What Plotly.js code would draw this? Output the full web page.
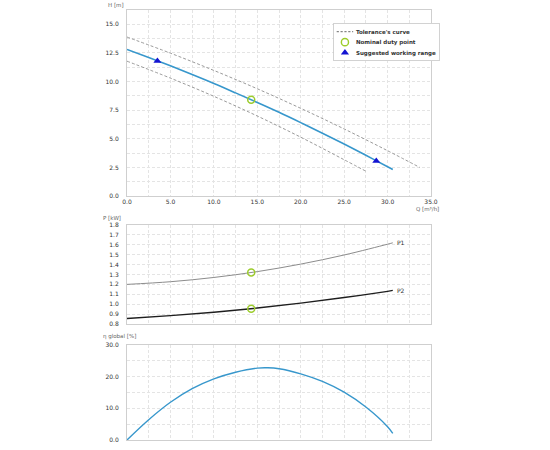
<!DOCTYPE html>
<html>
<head>
<meta charset="utf-8">
<script src="https://cdn.plot.ly/plotly-3.0.1.min.js"></script>
<style>
  html, body { margin: 0; padding: 0; background: #fff; }
  #chart { width: 550px; height: 450px; }
</style>
</head>
<body>
<div id="chart"></div>
<script>
// pump curve: head, tolerance band, power and efficiency vs flow
const qMain = [0, 2.5, 5, 7.5, 10, 12.5, 15, 17.5, 20, 22.5, 25, 27.5, 30, 30.6];
const hMain = [12.80, 12.10, 11.37, 10.61, 9.83, 9.01, 8.17, 7.31, 6.41, 5.49, 4.54, 3.56, 2.56, 2.31];
const qUpper = [0, 5, 10, 15, 20, 25, 30, 33.7];
const hUpper = [13.89, 12.48, 10.97, 9.37, 7.66, 5.86, 3.96, 2.50];
const qLower = [0, 5, 10, 15, 20, 25, 27.6];
const hLower = [11.78, 10.30, 8.71, 6.99, 5.14, 3.17, 2.13];

const qDuty = [14.3];
const hDuty = [8.41];
const p1Duty = [1.32];
const p2Duty = [0.955];

const qRange = [3.5, 28.7];
const hRange = [11.8, 3.06];

const qPower = [0, 5, 10, 15, 20, 25, 30, 30.6];
const p1 = [1.200, 1.227, 1.270, 1.329, 1.405, 1.497, 1.606, 1.62];
const p2 = [0.855, 0.884, 0.919, 0.961, 1.011, 1.067, 1.130, 1.139];

const qEff = [0, 2.5, 5, 7.5, 10, 12.5, 15, 16.2, 17.5, 20, 22.5, 25, 27.5, 30, 30.6];
const eff = [0, 6.4, 11.9, 16.2, 19.3, 21.4, 22.7, 22.8, 22.5, 20.9, 18.5, 15.1, 10.4, 4.2, 2.1];

const blue = "#3797cc";
const tolGray = "#8f8f8f";
const dutyGreen = "#9ccc2c";
const triBlue = "#1414d2";
const gridCol = "#e4e4e4";
const fontFam = "DejaVu Sans, sans-serif";
const legendScale = 0.55;

const dutyMarker = {symbol: "circle-open", size: 7, color: dutyGreen, line: {width: 1.5, color: dutyGreen}};

let traces = [
  {x: qUpper, y: hUpper, mode: "lines", showlegend: false,
   line: {color: tolGray, width: 0.9, dash: "3px,2px", shape: "spline"}, xaxis: "x", yaxis: "y"},
  {x: qLower, y: hLower, mode: "lines", showlegend: false,
   line: {color: tolGray, width: 0.9, dash: "3px,2px", shape: "spline"}, xaxis: "x", yaxis: "y"},
  {x: qMain, y: hMain, mode: "lines", showlegend: false,
   line: {color: blue, width: 1.6, shape: "spline"}, xaxis: "x", yaxis: "y"},
  {x: qDuty, y: hDuty, mode: "markers", showlegend: false, marker: dutyMarker,
   xaxis: "x", yaxis: "y"},
  {x: qRange, y: hRange, mode: "markers", showlegend: false,
   marker: {symbol: "triangle-up", size: 7, color: triBlue}, xaxis: "x", yaxis: "y"},

  {x: qPower, y: p1, mode: "lines", showlegend: false,
   line: {color: "#8c8c8c", width: 1, shape: "spline"}, xaxis: "x2", yaxis: "y2"},
  {x: qPower, y: p2, mode: "lines", showlegend: false,
   line: {color: "#1e1e1e", width: 1.4, shape: "spline"}, xaxis: "x2", yaxis: "y2"},
  {x: qDuty.concat(qDuty), y: p1Duty.concat(p2Duty), mode: "markers", showlegend: false,
   marker: dutyMarker, xaxis: "x2", yaxis: "y2"},

  {x: qEff, y: eff, mode: "lines", showlegend: false,
   line: {color: blue, width: 1.4, shape: "spline"}, xaxis: "x3", yaxis: "y3"},

  // legend entries only (the legend box is scaled down after drawing)
  {x: [null], y: [null], mode: "lines", name: "Tolerance's curve",
   line: {color: "#666", width: 1.8, dash: "4px,3px"}, xaxis: "x", yaxis: "y"},
  {x: [null], y: [null], mode: "markers", name: "Nominal duty point",
   marker: {symbol: "circle-open", size: 13, color: dutyGreen, line: {width: 2.6, color: dutyGreen}},
   xaxis: "x", yaxis: "y"},
  {x: [null], y: [null], mode: "markers", name: "Suggested working range",
   marker: {symbol: "triangle-up", size: 13, color: triBlue}, xaxis: "x", yaxis: "y"}
];

function xAxis(anchor, labels) {
  return {
    domain: [0, 1], anchor: anchor, range: [0, 35], dtick: 5, tick0: 0,
    showticklabels: labels, tickformat: ".1f", ticks: "",
    tickfont: {family: fontFam, size: 6, color: "#333"},
    showgrid: true, gridcolor: gridCol, griddash: "3px,2px", gridwidth: 1,
    minor: {dtick: 2.5, showgrid: true, gridcolor: gridCol, griddash: "3px,2px"},
    showline: true, mirror: true, linecolor: "#cfcfcf", linewidth: 1,
    zeroline: false, fixedrange: true
  };
}

function yAxis(anchor, domain, range, dtick, minorDtick) {
  let ax = {
    domain: domain, anchor: anchor, range: range, dtick: dtick, tick0: 0,
    tickformat: ".1f", ticks: "", ticklabelstandoff: 6,
    tickfont: {family: fontFam, size: 6, color: "#333"},
    showgrid: true, gridcolor: gridCol, griddash: "3px,2px", gridwidth: 1,
    showline: true, mirror: true, linecolor: "#cfcfcf", linewidth: 1,
    zeroline: false, fixedrange: true
  };
  if (minorDtick) {
    ax.minor = {dtick: minorDtick, showgrid: true, gridcolor: gridCol, griddash: "3px,2px"};
  }
  return ax;
}

const smallFont = {family: fontFam, size: 5.5, color: "#666"};

let layout = {
  width: 550, height: 450,
  margin: {l: 127, r: 119, t: 10, b: 10},
  paper_bgcolor: "#fff", plot_bgcolor: "#fff",
  showlegend: true,
  legend: {
    x: 0.678, y: 0.970, xanchor: "left", yanchor: "top",
    bgcolor: "#fff", bordercolor: "#c8c8c8", borderwidth: 1.5,
    font: {family: fontFam, size: 10, color: "#333", weight: "bold"},
    itemwidth: 30, tracegroupgap: 0
  },
  xaxis: xAxis("y", true),
  yaxis: yAxis("x", [0.5674, 1], [0, 16.25], 2.5, 1.25),
  xaxis2: xAxis("y2", false),
  yaxis2: yAxis("x2", [0.2698, 0.5], [0.8, 1.8], 0.1, null),
  xaxis3: xAxis("y3", false),
  yaxis3: yAxis("x3", [0, 0.221], [0, 30], 10, 5),
  annotations: [
    {text: "H [m]", xref: "paper", yref: "paper", x: -0.035, y: 1.012,
     xanchor: "center", yanchor: "middle", showarrow: false, font: smallFont},
    {text: "Q [m³/h]", xref: "paper", yref: "paper", x: 0.99, y: 0.538,
     xanchor: "center", yanchor: "middle", showarrow: false, font: smallFont},
    {text: "P [kW]", xref: "paper", yref: "paper", x: -0.05, y: 0.516,
     xanchor: "center", yanchor: "middle", showarrow: false, font: smallFont},
    {text: "η global [%]", xref: "paper", yref: "paper", x: -0.025, y: 0.24,
     xanchor: "center", yanchor: "middle", showarrow: false, font: smallFont},
    {text: "P1", xref: "x2", yref: "y2", x: 30.9, y: p1[p1.length - 1],
     xanchor: "left", yanchor: "middle", showarrow: false,
     font: {family: fontFam, size: 6, color: "#333"}},
    {text: "P2", xref: "x2", yref: "y2", x: 30.9, y: p2[p2.length - 1],
     xanchor: "left", yanchor: "middle", showarrow: false,
     font: {family: fontFam, size: 6, color: "#333"}}
  ]
};

Plotly.newPlot("chart", traces, layout, {displayModeBar: false, staticPlot: true}).then(function (gd) {
  let leg = gd.querySelector(".legend");
  if (leg) {
    let t = leg.getAttribute("transform") || "";
    leg.setAttribute("transform", t + " scale(" + legendScale + ")");
  }
});
</script>
</body>
</html>
